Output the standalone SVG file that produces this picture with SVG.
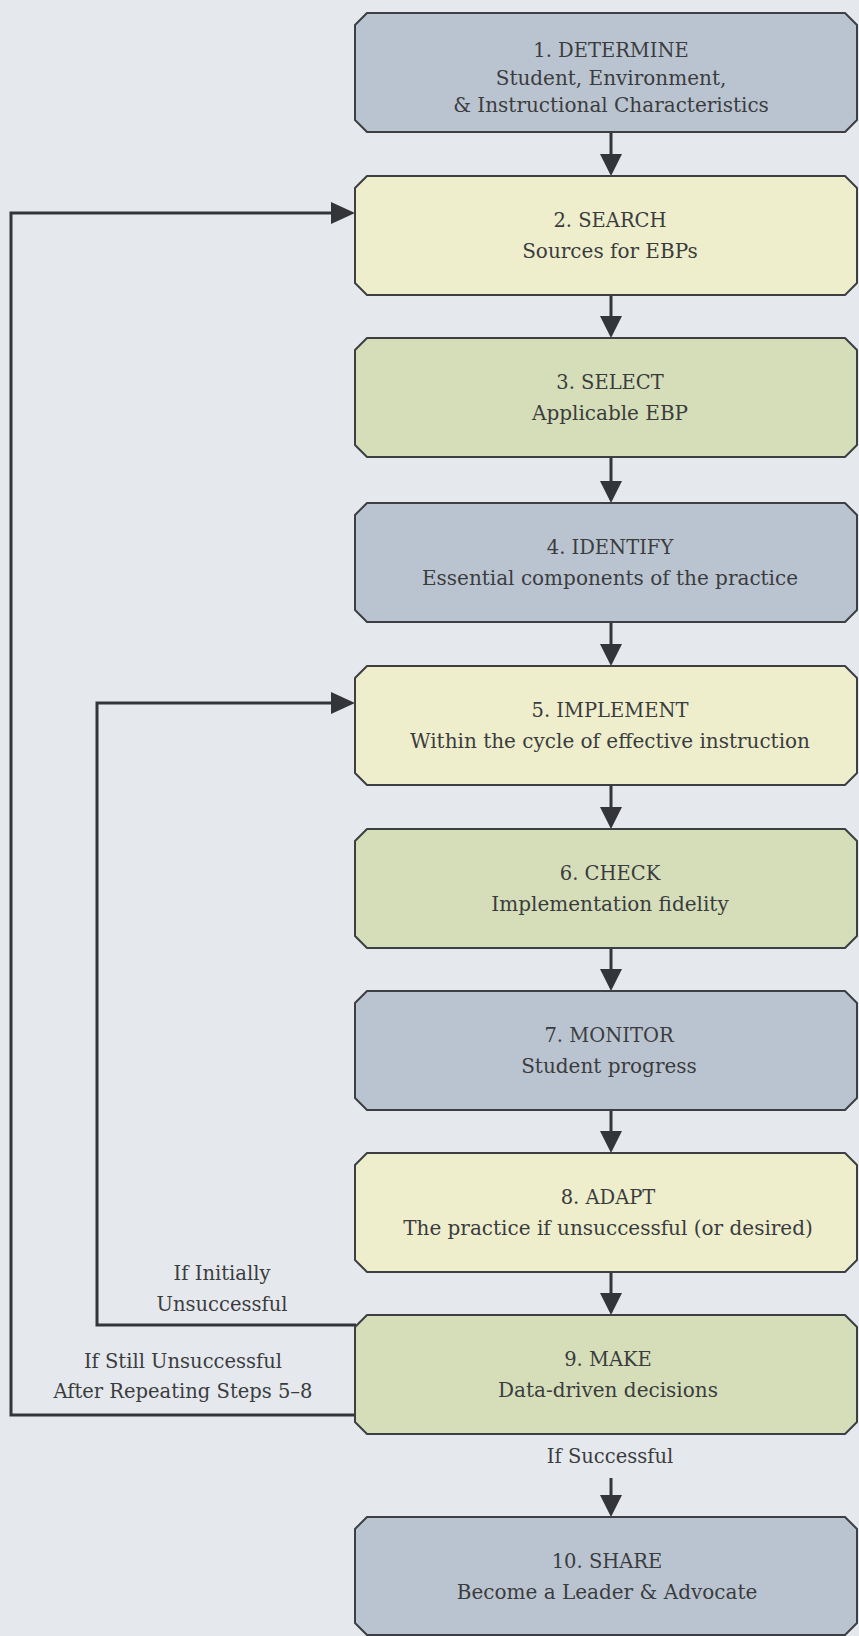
<svg xmlns="http://www.w3.org/2000/svg" width="859" height="1636" viewBox="0 0 859 1636">
<style>
.bx{stroke:#3d3f42;stroke-width:2;stroke-linejoin:round}
.blue{fill:#bac4d0}
.yel{fill:#eeeecc}
.grn{fill:#d5deb8}
.t{font-family:"DejaVu Serif","Liberation Serif",serif;font-size:20px;fill:#3a3c3e;text-anchor:middle}
.h{font-size:19.5px}
.lb{font-size:19.5px}
.ln{fill:none;stroke:#333538;stroke-width:3}
.hd{fill:#333538}
</style>
<defs>
<path id="shape" d="M12,0 H490 L502,12 V107 L490,119 H12 L0,107 V12 Z"/>
<path id="shape10" d="M12,0 H490 L502,12 V106 L490,118 H12 L0,106 V12 Z"/>
</defs>
<rect width="859" height="1636" fill="#e5e8ed"/>

<g id="connectors">
<g id="down-arrows">
<line class="ln" x1="611" y1="132" x2="611" y2="156"/><polygon class="hd" points="600,154 622,154 611,176"/>
<line class="ln" x1="611" y1="295" x2="611" y2="318"/><polygon class="hd" points="600,316 622,316 611,338"/>
<line class="ln" x1="611" y1="457" x2="611" y2="483"/><polygon class="hd" points="600,481 622,481 611,503"/>
<line class="ln" x1="611" y1="622" x2="611" y2="646"/><polygon class="hd" points="600,644 622,644 611,666"/>
<line class="ln" x1="611" y1="785" x2="611" y2="809"/><polygon class="hd" points="600,807 622,807 611,829"/>
<line class="ln" x1="611" y1="948" x2="611" y2="971"/><polygon class="hd" points="600,969 622,969 611,991"/>
<line class="ln" x1="611" y1="1110" x2="611" y2="1133"/><polygon class="hd" points="600,1131 622,1131 611,1153"/>
<line class="ln" x1="611" y1="1272" x2="611" y2="1295"/><polygon class="hd" points="600,1293 622,1293 611,1315"/>
<line class="ln" x1="611" y1="1478" x2="611" y2="1497"/><polygon class="hd" points="600,1495 622,1495 611,1517"/>
</g>
<g id="loop-outer">
<polyline class="ln" points="356,1415 11,1415 11,213 334,213"/>
<polygon class="hd" points="331,202 331,224 355,213"/>
</g>
<g id="loop-inner">
<polyline class="ln" points="356,1325 97,1325 97,703 334,703"/>
<polygon class="hd" points="331,692 331,714 355,703"/>
</g>
</g>

<g id="labels">
<text class="t lb" x="222" y="1280">If Initially</text>
<text class="t lb" x="222" y="1311">Unsuccessful</text>
<text class="t lb" x="183" y="1368">If Still Unsuccessful</text>
<text class="t lb" x="183" y="1398">After Repeating Steps 5–8</text>
<text class="t lb" x="610" y="1463">If Successful</text>
</g>

<g id="node1" transform="translate(355,13)">
<use href="#shape" class="bx blue"/>
<text class="t h" x="256" y="44">1. DETERMINE</text>
<text class="t" x="256" y="72">Student, Environment,</text>
<text class="t" x="256" y="99">&amp; Instructional Characteristics</text>
</g>
<g id="node2" transform="translate(355,176)">
<use href="#shape" class="bx yel"/>
<text class="t h" x="255" y="51">2. SEARCH</text>
<text class="t" x="255" y="82">Sources for EBPs</text>
</g>
<g id="node3" transform="translate(355,338)">
<use href="#shape" class="bx grn"/>
<text class="t h" x="255" y="51">3. SELECT</text>
<text class="t" x="255" y="82">Applicable EBP</text>
</g>
<g id="node4" transform="translate(355,503)">
<use href="#shape" class="bx blue"/>
<text class="t h" x="255" y="51">4. IDENTIFY</text>
<text class="t" x="255" y="82">Essential components of the practice</text>
</g>
<g id="node5" transform="translate(355,666)">
<use href="#shape" class="bx yel"/>
<text class="t h" x="255" y="51">5. IMPLEMENT</text>
<text class="t" x="255" y="82">Within the cycle of effective instruction</text>
</g>
<g id="node6" transform="translate(355,829)">
<use href="#shape" class="bx grn"/>
<text class="t h" x="255" y="51">6. CHECK</text>
<text class="t" x="255" y="82">Implementation fidelity</text>
</g>
<g id="node7" transform="translate(355,991)">
<use href="#shape" class="bx blue"/>
<text class="t h" x="254" y="51">7. MONITOR</text>
<text class="t" x="254" y="82">Student progress</text>
</g>
<g id="node8" transform="translate(355,1153)">
<use href="#shape" class="bx yel"/>
<text class="t h" x="253" y="51">8. ADAPT</text>
<text class="t" x="253" y="82">The practice if unsuccessful (or desired)</text>
</g>
<g id="node9" transform="translate(355,1315)">
<use href="#shape" class="bx grn"/>
<text class="t h" x="253" y="51">9. MAKE</text>
<text class="t" x="253" y="82">Data-driven decisions</text>
</g>
<g id="node10" transform="translate(355,1517)">
<use href="#shape10" class="bx blue"/>
<text class="t h" x="252" y="51">10. SHARE</text>
<text class="t" x="252" y="82">Become a Leader &amp; Advocate</text>
</g>
</svg>
